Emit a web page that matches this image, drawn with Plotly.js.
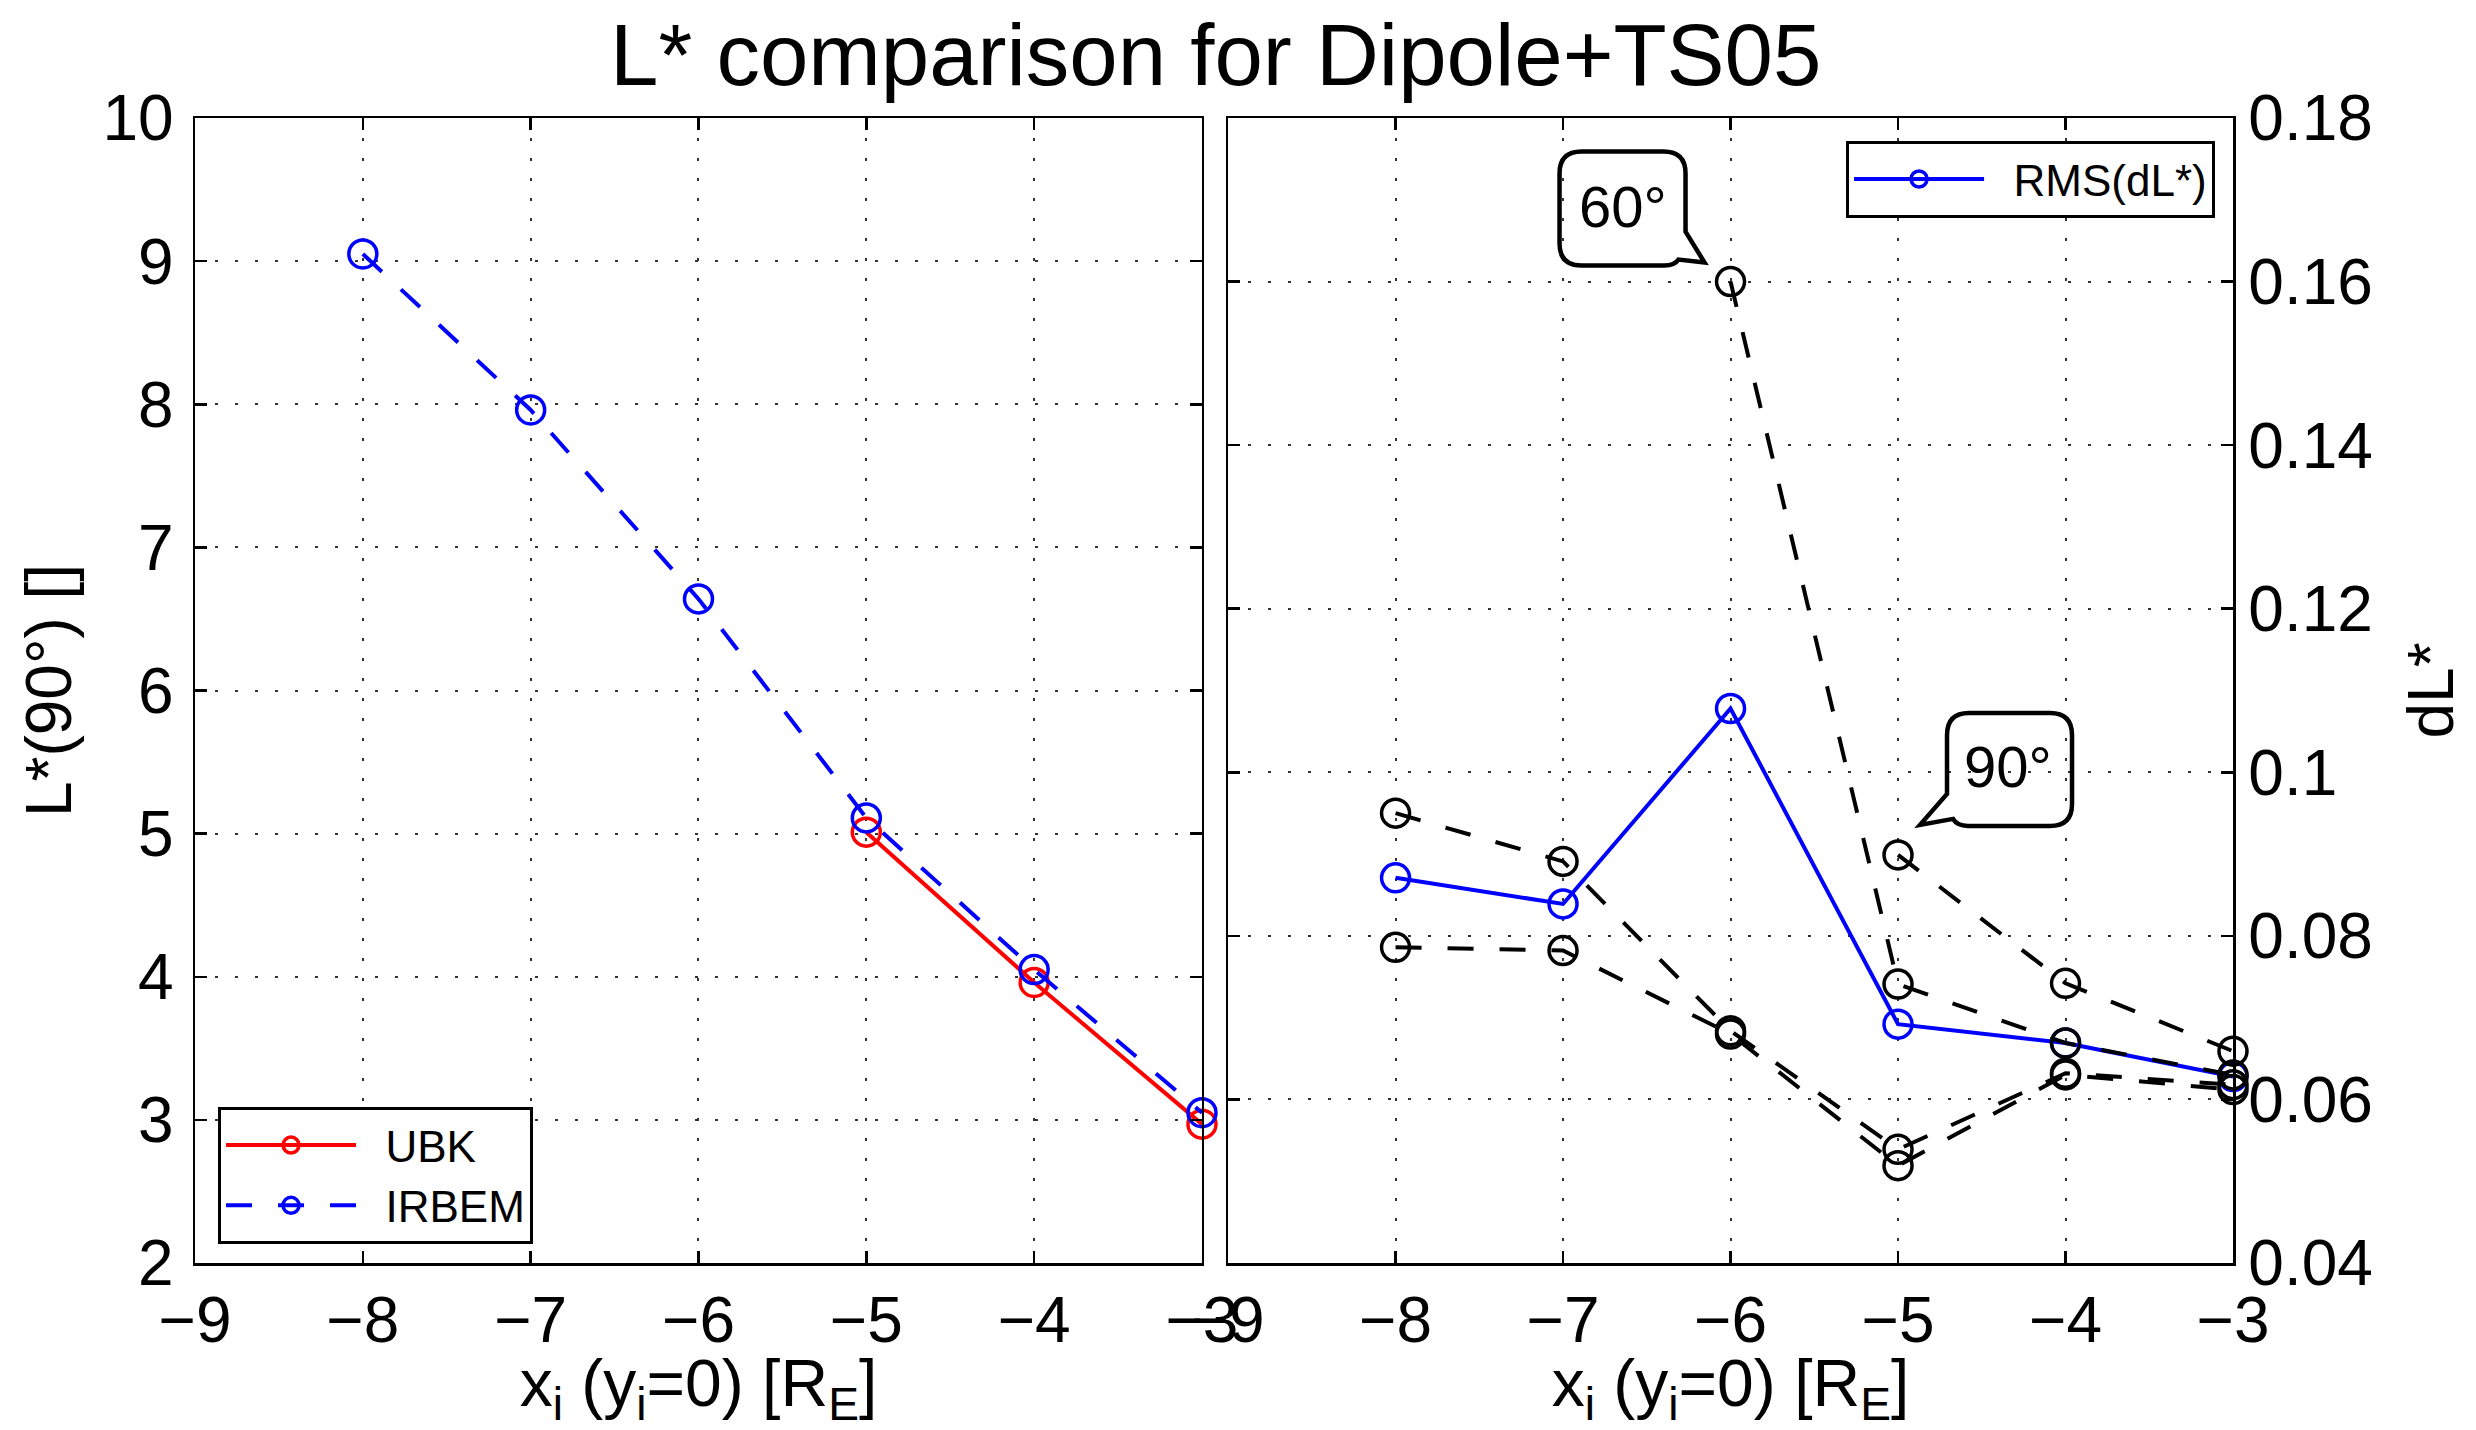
<!DOCTYPE html>
<html>
<head>
<meta charset="utf-8">
<script src="https://cdn.plot.ly/plotly-3.0.1.min.js"></script>
<style>html,body{margin:0;padding:0;background:#fff;}</style>
</head>
<body>
<div id="chart" style="width:2476px;height:1430px;"></div>
<script>
// ---- data ----
const xPos = [-8, -7, -6, -5, -4, -3];
const ubkX = [-5, -4, -3];
const ubkL = [5.01, 3.96, 2.97];
const irbemL = [9.05, 7.96, 6.64, 5.11, 4.05, 3.05];

const rmsX = [-8, -7, -6, -5, -4, -3];
const rmsDL = [0.0871, 0.0839, 0.1078, 0.0692, 0.0669, 0.0628];

const dl60X = [-6, -5, -4, -3];
const dl60 = [0.1600, 0.0741, 0.0669, 0.0630];
const dl90X = [-5, -4, -3];
const dl90 = [0.0899, 0.0742, 0.0659];
const dlAX = [-8, -7, -6, -5, -4, -3];
const dlA = [0.0950, 0.0891, 0.0684, 0.0539, 0.0632, 0.0618];
const dlBX = [-8, -7, -6, -5, -4, -3];
const dlB = [0.0786, 0.0782, 0.0680, 0.0519, 0.0630, 0.0612];

const xTickVals = [-9, -8, -7, -6, -5, -4, -3];
const xTickText = ['\u22129', '\u22128', '\u22127', '\u22126', '\u22125', '\u22124', '\u22123'];
const yLTickVals = [2, 3, 4, 5, 6, 7, 8, 9, 10];
const yLTickText = ['2', '3', '4', '5', '6', '7', '8', '9', '10'];
const yRTickVals = [0.04, 0.06, 0.08, 0.10, 0.12, 0.14, 0.16, 0.18];
const yRTickText = ['0.04', '0.06', '0.08', '0.1', '0.12', '0.14', '0.16', '0.18'];

// ---- styles ----
const FONT = 'Liberation Sans, Arial, Helvetica, sans-serif';
const DASH = '26px,26px';
const LW = 4;
const mk = (c) => ({symbol: 'circle-open', size: 28, color: c, line: {color: c, width: 3.5}});
const PAD = '\u00a0\u00a0';

const traces = [
  {x: ubkX, y: ubkL, name: PAD + 'UBK', type: 'scatter', mode: 'lines+markers', cliponaxis: false,
   xaxis: 'x', yaxis: 'y', line: {color: '#ff0000', width: LW}, marker: mk('#ff0000'), legend: 'legend'},
  {x: xPos, y: irbemL, name: PAD + 'IRBEM', type: 'scatter', mode: 'lines+markers', cliponaxis: false,
   xaxis: 'x', yaxis: 'y', line: {color: '#0000ff', width: LW, dash: DASH}, marker: mk('#0000ff'), legend: 'legend'},
  {x: rmsX, y: rmsDL, name: PAD + 'RMS(dL*)', type: 'scatter', mode: 'lines+markers', cliponaxis: false,
   xaxis: 'x2', yaxis: 'y2', line: {color: '#0000ff', width: LW}, marker: mk('#0000ff'), legend: 'legend2'},
  {x: dl60X, y: dl60, name: '60\u00b0', type: 'scatter', mode: 'lines+markers', showlegend: false, cliponaxis: false,
   xaxis: 'x2', yaxis: 'y2', line: {color: '#000', width: LW, dash: DASH}, marker: mk('#000')},
  {x: dl90X, y: dl90, name: '90\u00b0', type: 'scatter', mode: 'lines+markers', showlegend: false, cliponaxis: false,
   xaxis: 'x2', yaxis: 'y2', line: {color: '#000', width: LW, dash: DASH}, marker: mk('#000')},
  {x: dlAX, y: dlA, name: 'a', type: 'scatter', mode: 'lines+markers', showlegend: false, cliponaxis: false,
   xaxis: 'x2', yaxis: 'y2', line: {color: '#000', width: LW, dash: DASH}, marker: mk('#000')},
  {x: dlBX, y: dlB, name: 'b', type: 'scatter', mode: 'lines+markers', showlegend: false, cliponaxis: false,
   xaxis: 'x2', yaxis: 'y2', line: {color: '#000', width: LW, dash: DASH}, marker: mk('#000')}
];

const axBase = {
  showline: true, linecolor: '#000', linewidth: 2.5, mirror: 'ticks',
  ticks: 'inside', ticklen: 12, tickwidth: 2.5, tickcolor: '#000',
  showgrid: true, gridcolor: '#333', gridwidth: 2, griddash: '3px,17px',
  zeroline: false, tickfont: {size: 64, family: FONT, color: '#000'}
};
const xTitle = 'x<sub>i</sub> (y<sub>i</sub>=0) [R<sub>E</sub>]';

const layout = {
  width: 2476, height: 1430,
  margin: {l: 195, r: 243, t: 118, b: 167},
  paper_bgcolor: '#fff', plot_bgcolor: '#fff',
  font: {family: FONT, size: 64, color: '#000'},
  title: {text: 'L* comparison for Dipole+TS05', font: {size: 87, family: FONT, color: '#000'},
          x: 0.491, xanchor: 'center', xref: 'container', y: 0.962, yanchor: 'middle', yref: 'container'},
  xaxis: Object.assign({}, axBase, {domain: [0, 0.4941], range: [-9, -3], anchor: 'y',
          tickvals: xTickVals, ticktext: xTickText, ticklabelstandoff: 0,
          title: {text: xTitle, font: {size: 66}, standoff: 18}}),
  yaxis: Object.assign({}, axBase, {domain: [0, 1], range: [2, 10], anchor: 'x',
          tickvals: yLTickVals, ticktext: yLTickText, ticklabelstandoff: 6,
          title: {text: 'L*(90\u00b0) []', font: {size: 64}, standoff: 10}}),
  xaxis2: Object.assign({}, axBase, {domain: [0.5069, 1], range: [-9, -3], anchor: 'y2',
          tickvals: xTickVals, ticktext: xTickText, ticklabelstandoff: 0,
          title: {text: xTitle, font: {size: 66}, standoff: 18}}),
  yaxis2: Object.assign({}, axBase, {domain: [0, 1], range: [0.04, 0.18], anchor: 'x2', side: 'right',
          tickvals: yRTickVals, ticktext: yRTickText, ticklabelstandoff: 0,
          title: {text: 'dL*', font: {size: 64}, standoff: 37}}),
  legend: {x: 0.0113, y: 0.0166, xanchor: 'left', yanchor: 'bottom', xref: 'paper', yref: 'paper',
           bgcolor: '#fff', bordercolor: '#000', borderwidth: 3, font: {size: 44, family: FONT, color: '#000'},
           itemwidth: 130, tracegroupgap: 0},
  legend2: {x: 0.9912, y: 0.98, xanchor: 'right', yanchor: 'top', xref: 'paper', yref: 'paper',
           bgcolor: '#fff', bordercolor: '#000', borderwidth: 3, font: {size: 44, family: FONT, color: '#000'},
           itemwidth: 130},
  shapes: [
    {type: 'path', xref: 'x2', yref: 'y2', xsizemode: 'pixel', ysizemode: 'pixel',
     xanchor: -6, yanchor: 0.16, layer: 'above',
     path: 'M-149,130 H-67 Q-45,130 -45,108 V50 L-26,19 L-52,22 Q-56,16 -66,16 H-149 Q-171,16 -171,38 V108 Q-171,130 -149,130 Z',
     line: {color: '#000', width: 4.5}, fillcolor: 'rgba(0,0,0,0)'},
    {type: 'path', xref: 'x2', yref: 'y2', xsizemode: 'pixel', ysizemode: 'pixel',
     xanchor: -5, yanchor: 0.0899, layer: 'above',
     path: 'M71,142 H152 Q174,142 174,120 V51 Q174,29 152,29 H70 Q59,29 55,36 L22,30 L49,61 V120 Q49,142 71,142 Z',
     line: {color: '#000', width: 4.5}, fillcolor: 'rgba(0,0,0,0)'}
  ],
  annotations: [
    {x: -6, y: 0.16, xref: 'x2', yref: 'y2', text: '60\u00b0', showarrow: false,
     xshift: -108, yshift: 75, font: {size: 58, family: FONT, color: '#000'}},
    {x: -5, y: 0.0899, xref: 'x2', yref: 'y2', text: '90\u00b0', showarrow: false,
     xshift: 110, yshift: 88, font: {size: 58, family: FONT, color: '#000'}}
  ]
};

Plotly.newPlot('chart', traces, layout, {staticPlot: true, displayModeBar: false});
</script>
</body>
</html>
